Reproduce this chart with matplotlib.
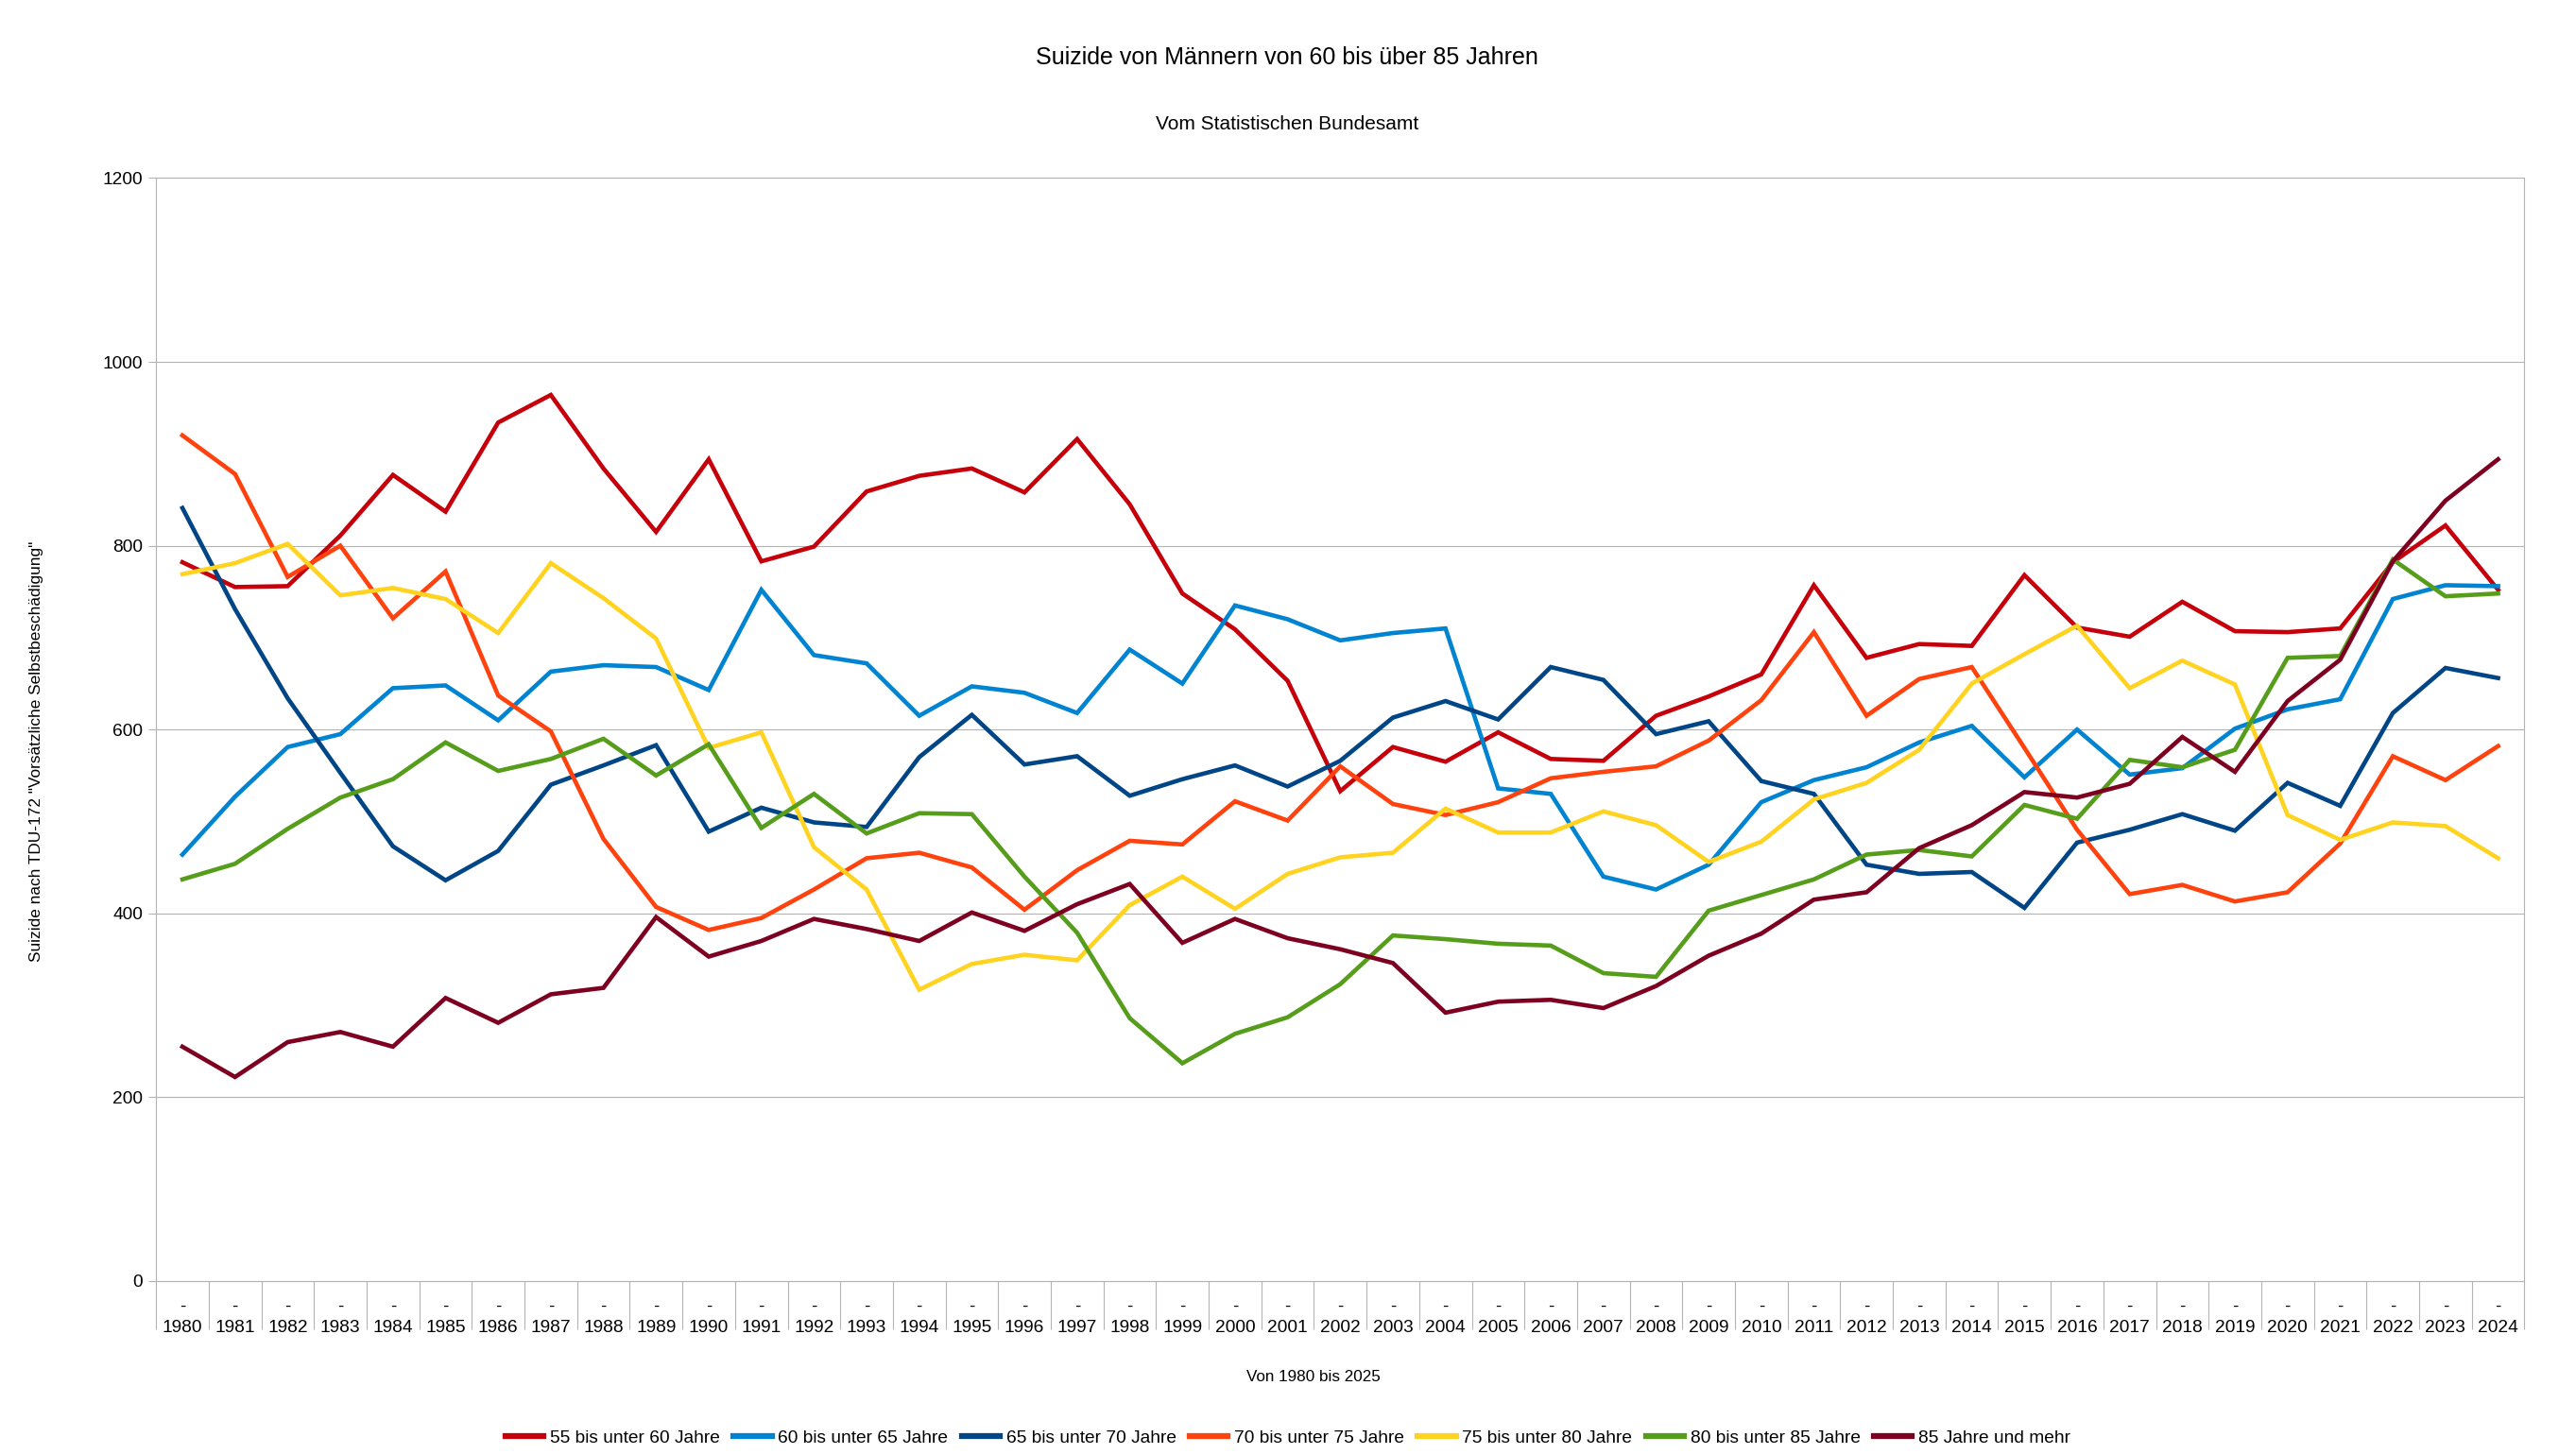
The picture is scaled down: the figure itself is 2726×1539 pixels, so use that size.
import matplotlib
matplotlib.use("Agg")
import matplotlib.pyplot as plt
import matplotlib.transforms as mtransforms

plt.rcParams['font.family'] = ['Liberation Sans', 'DejaVu Sans']

years = list(range(1980, 2025))
series_names = ["55 bis unter 60 Jahre", "60 bis unter 65 Jahre", "65 bis unter 70 Jahre",
                "70 bis unter 75 Jahre", "75 bis unter 80 Jahre", "80 bis unter 85 Jahre",
                "85 Jahre und mehr"]
colors = ["#c5000b", "#0084d1", "#004586", "#ff420e", "#ffd320", "#579d1c", "#7e0021"]

m55 = [782, 755, 756, 811, 877, 837, 934, 964, 884, 815, 894, 783, 799, 859, 876, 884, 858, 916,
       845, 748, 709, 653, 533, 581, 565, 597, 568, 566, 615, 636, 660, 757, 678, 693, 691, 768,
       711, 701, 739, 707, 706, 710, 782, 822, 752]
m60 = [464, 527, 581, 595, 645, 648, 610, 663, 670, 668, 643, 752, 681, 672, 615, 647, 640, 618,
       687, 650, 735, 720, 697, 705, 710, 536, 530, 440, 426, 453, 521, 545, 559, 586, 604, 548,
       600, 551, 558, 601, 622, 633, 742, 757, 756]
m65 = [841, 731, 634, 553, 473, 436, 468, 540, 561, 583, 489, 515, 499, 494, 570, 616, 562, 571,
       528, 546, 561, 538, 566, 613, 631, 611, 668, 654, 595, 609, 544, 530, 453, 443, 445, 406,
       477, 491, 508, 490, 542, 517, 618, 667, 656]
m70 = [920, 878, 766, 800, 721, 772, 637, 598, 481, 407, 382, 395, 426, 460, 466, 450, 404, 447,
       479, 475, 522, 501, 560, 519, 507, 521, 547, 554, 560, 588, 632, 706, 615, 655, 668, 580,
       491, 421, 431, 413, 423, 476, 571, 545, 582]
m75 = [769, 781, 802, 746, 754, 742, 705, 781, 743, 699, 580, 597, 472, 426, 317, 345, 355, 349,
       409, 440, 405, 443, 461, 466, 514, 488, 488, 511, 496, 456, 478, 524, 542, 578, 650, 682,
       713, 645, 675, 649, 507, 480, 499, 495, 460]
m80 = [437, 454, 492, 526, 546, 586, 555, 568, 590, 550, 584, 493, 530, 487, 509, 508, 440, 379,
       286, 237, 269, 287, 323, 376, 372, 367, 365, 335, 331, 403, 420, 437, 464, 469, 462, 518,
       503, 567, 559, 578, 678, 680, 785, 745, 748]
m85 = [255, 222, 260, 271, 255, 308, 281, 312, 319, 396, 353, 370, 394, 383, 370, 401, 381, 410,
       432, 368, 394, 373, 361, 346, 292, 304, 306, 297, 321, 354, 378, 415, 423, 471, 496, 532,
       526, 541, 592, 554, 631, 676, 783, 849, 894]
all_series = [m55, m60, m65, m70, m75, m80, m85]

yticks = [0, 200, 400, 600, 800, 1000, 1200]

W, H = 2726, 1539
DPI = 100
fig = plt.figure(figsize=(W / DPI, H / DPI), dpi=DPI)
ax_l, ax_r, ax_t, ax_b = 165.2, 2671.4, 188.4, 1356.0
ax = fig.add_axes([ax_l / W, 1 - ax_b / H, (ax_r - ax_l) / W, (ax_b - ax_t) / H])

grid_c = "#b3b3b3"
x = list(range(len(years)))
for vals, name, c in zip(all_series, series_names, colors):
    ax.plot(x, vals, color=c, lw=3.3, label=name, solid_joinstyle='miter', zorder=3)

ax.set_xlim(-0.5, len(years) - 0.5)
ax.set_ylim(0, 1200)
ax.set_yticks(yticks)
ax.set_yticklabels([str(v) for v in yticks], fontsize=13.8)
ax.yaxis.grid(True, color=grid_c, lw=0.8)
ax.set_axisbelow(True)
for s in ax.spines.values():
    s.set_color(grid_c)
    s.set_linewidth(0.8)
ax.tick_params(axis='y', length=6, width=0.8, color=grid_c, pad=4.3, labelcolor='black')

# category separators
ax.set_xticks([i - 0.5 for i in range(len(years) + 1)])
ax.set_xticklabels([])
ax.tick_params(axis='x', length=36.7, width=0.8, color=grid_c, direction='out')

axh = ax_b - ax_t
trans = mtransforms.blended_transform_factory(ax.transData, ax.transAxes)
for i, yr in enumerate(years):
    ax.text(i, -27 / axh, "-", transform=trans, ha='center', va='center', fontsize=13.8)
    ax.text(i, -49 / axh, str(yr), transform=trans, ha='center', va='center', fontsize=13.8)

fig.text(1362 / W, 1 - 68 / H, "Suizide von Männern von 60 bis über 85 Jahren",
         ha='center', va='baseline', fontsize=18)
fig.text(1362 / W, 1 - 137 / H, "Vom Statistischen Bundesamt",
         ha='center', va='baseline', fontsize=15)
fig.text(1389.5 / W, 1 - 1458 / H, "Von 1980 bis 2025", ha='center', va='center', fontsize=12.3)
fig.text(38.5 / W, 1 - 795 / H, 'Suizide nach TDU-172 "Vorsätzliche Selbstbeschädigung"',
         ha='center', va='center', rotation=90, fontsize=12.4)

leg = fig.legend(loc='center', bbox_to_anchor=(1363 / W, 1 - 1522 / H), ncol=7, frameon=False,
                 fontsize=13.8, handlelength=2.1, handletextpad=0.35, columnspacing=0.75,
                 borderaxespad=0, borderpad=0)
for h in leg.get_lines():
    h.set_linewidth(4.5)

fig.savefig("out.png", dpi=DPI)
